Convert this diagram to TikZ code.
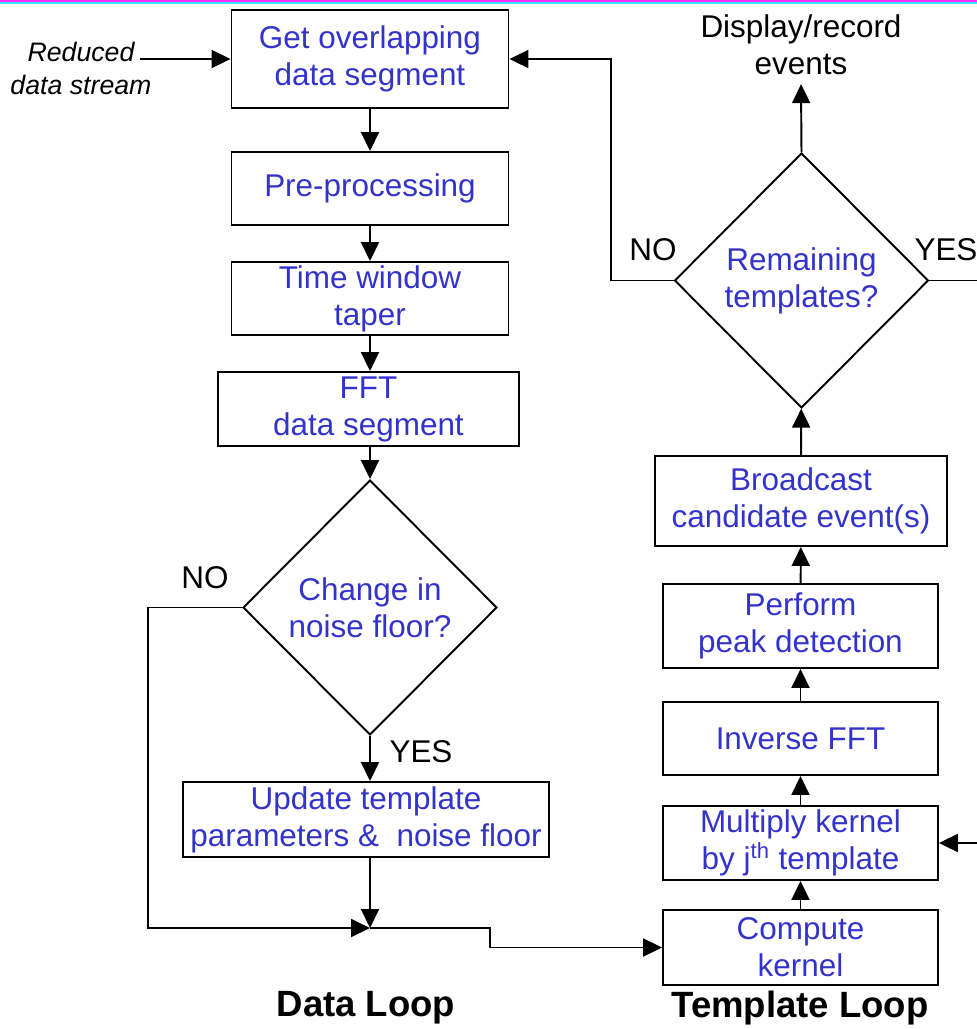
\documentclass[tikz,border=0pt]{standalone}
\usepackage{fontspec}
\setmainfont{Liberation Sans}
\usetikzlibrary{positioning}
\usetikzlibrary{shapes.geometric}
\usetikzlibrary{arrows.meta}
\definecolor{textblue}{RGB}{51,51,204}
\definecolor{stripemagenta}{RGB}{255,40,255}
\definecolor{stripecyan}{RGB}{60,230,255}

\begin{document}
\begin{tikzpicture}[x = 0.02cm, y = -0.02cm,
	box/.style = {draw, line width = 1.1pt, text = textblue, align = center, inner sep = 1pt, font = \fontsize{17.9}{21}\selectfont},
	test/.style = {draw, diamond, line width = 1.1pt, text = textblue, align = center, inner sep = 0pt, minimum width = 5.08cm, minimum height = 5.1cm, font = \fontsize{17.9}{21}\selectfont},
	lbl/.style = {align = center, inner sep = 0pt, font = \fontsize{17.9}{21}\selectfont},
	arr/.style = {line width = 1.1pt, -{Triangle[length = 0.38cm, width = 0.36cm]}},
	line/.style = {line width = 1.1pt}]
							\useasboundingbox (0, 0) rectangle (977, 1029);
							\fill [stripemagenta] (0, 0) rectangle (977, 2);
							\fill [stripecyan] (0, 2) rectangle (977, 4);
							% data loop
							\node [box, minimum width = 5.54cm, minimum height = 1.96cm] (get) at (370, 59) {Get overlapping\\data segment};
							\node [box, minimum width = 5.54cm, minimum height = 1.46cm] (pre) at (370, 188.5) {Pre-processing};
							\node [box, minimum width = 5.54cm, minimum height = 1.46cm] (taper) at (370, 298.5) {Time window\\taper};
							\node [box, minimum width = 6.02cm, minimum height = 1.48cm] (fft) at (368.5, 409) {FFT\\data segment};
							\node [test] (noise) at (370, 607.5) {Change in\\noise floor?};
							\node [box, minimum width = 7.32cm, minimum height = 1.5cm] (update) at (366, 819.5) {Update template\\parameters \&~ noise floor};
							\node [lbl, font = \fontsize{15.2}{18.8}\selectfont\itshape] (stream) at (81, 68) {Reduced\\data stream};
							\node [lbl] (nonoise) at (205, 578) {NO};
							\node [lbl] (yesnoise) at (421, 752) {YES};
							\node [lbl, font = \fontsize{20.8}{24}\selectfont\bfseries] (dataloop) at (366, 1008) {Data Loop};
							\coordinate (instream) at (140, 59);
							\coordinate (nobend) at (148, 928);
							\coordinate (junc) at (370, 928);
							\coordinate (jog) at (490, 928);
							% template loop
							\node [box, minimum width = 5.5cm, minimum height = 1.5cm] (compute) at (800.5, 947.5) {Compute\\kernel};
							\node [box, minimum width = 5.5cm, minimum height = 1.48cm] (mult) at (800.5, 843) {Multiply kernel\\by j\textsuperscript{th} template};
							\node [box, minimum width = 5.5cm, minimum height = 1.46cm] (ifft) at (800.5, 738.5) {Inverse FFT};
							\node [box, minimum width = 5.5cm, minimum height = 1.68cm] (peak) at (800.5, 626) {Perform\\peak detection};
							\node [box, minimum width = 5.84cm, minimum height = 1.8cm] (bcast) at (801, 501) {Broadcast\\candidate event(s)};
							\node [test] (rem) at (801.5, 280.5) {Remaining\\templates?};
							\node [lbl, inner sep = 5pt] (disp) at (801, 45) {Display/record\\events};
							\node [lbl] (norem) at (653, 250) {NO};
							\node [lbl] (yesrem) at (946, 250) {YES};
							\node [lbl, font = \fontsize{20.8}{24}\selectfont\bfseries] (temploop) at (800, 1008) {Template Loop};
							\coordinate (noturn) at (611, 59);
							\coordinate (yesout) at (977, 280.5);
							\coordinate (jin) at (977, 843);
							% connectors
							\draw [arr] (instream) -- (get.west);
							\draw [arr] (get) -- (pre);
							\draw [arr] (pre) -- (taper);
							\draw [arr] (taper) -- (fft.north -| taper);
							\draw [arr] (fft.south -| noise) -- (noise.north);
							\draw [arr] (noise.south) -- (noise.south |- update.north);
							\draw [arr] (update.south -| junc) -- (junc);
							\draw [arr] (noise.west) -| (nobend) -- (junc);
							\draw [arr] (junc) -- (jog) |- (compute.west);
							\draw [arr] (compute) -- (mult);
							\draw [arr] (mult) -- (ifft);
							\draw [arr] (ifft) -- (peak);
							\draw [arr] (peak) -- (bcast);
							\draw [arr] (bcast) -- (rem);
							\draw [arr] (rem.north) -- (disp.south);
							\draw [arr] (rem.west) -| (noturn) -- (get.east);
							\draw [line] (rem.east) -- (yesout);
							\draw [arr] (jin) -- (mult.east);
						\end{tikzpicture}
\end{document}
